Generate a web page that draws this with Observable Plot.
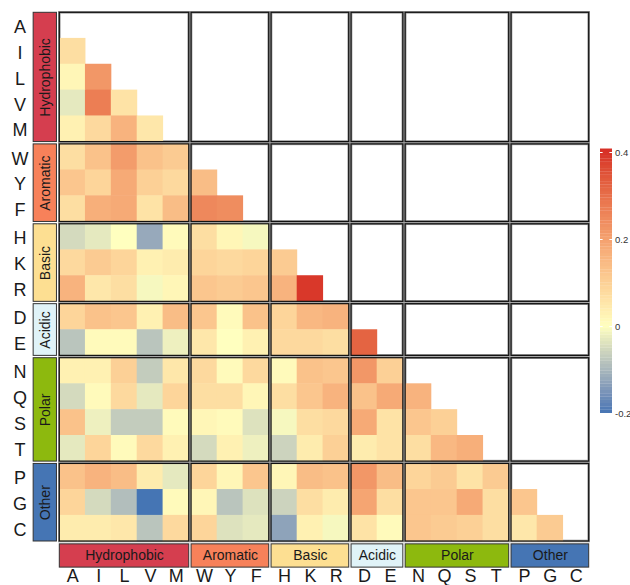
<!DOCTYPE html>
<html>
<head>
<meta charset="utf-8">
<script src="https://cdn.jsdelivr.net/npm/d3@7"></script>
<script src="https://cdn.jsdelivr.net/npm/@observablehq/plot@0.6"></script>
<style>
  html, body { margin: 0; padding: 0; background: #fff; }
  #wrap { position: relative; width: 630px; height: 585px; overflow: hidden; }
  #legend { position: absolute; left: 590px; top: 0; }
  svg { font-family: "Liberation Sans", Arial, sans-serif; }
</style>
</head>
<body>
<div id="wrap"><div id="main"></div><div id="legend"></div></div>
<script>
// ---- data ----
const aminoAcids = ["A","I","L","V","M","W","Y","F","H","K","R","D","E","N","Q","S","T","P","G","C"];
const groupNames = ["Hydrophobic","Aromatic","Basic","Acidic","Polar","Other"];
const groupSizes = [5,3,3,2,4,3];
const groupColors = ["#D53E4F","#F7815A","#FDDF92","#E0F3F8","#8DB90E","#4575B4"];
// lower-triangle correlation values: row i lists columns 0..i-1
const rowA = [];
const rowI = [0.07];
const rowL = [0.02, 0.22];
const rowV = [-0.03, 0.27, 0.06];
const rowM = [0.03, 0.08, 0.16, 0.05];
const rowW = [0.07, 0.13, 0.21, 0.13, 0.11];
const rowY = [0.12, 0.09, 0.18, 0.10, 0.08, 0.14];
const rowF = [0.07, 0.17, 0.18, 0.06, 0.14, 0.25, 0.24];
const rowH = [-0.05, -0.03, 0.00, -0.12, 0.01, 0.07, 0.02, -0.01];
const rowK = [0.08, 0.11, 0.09, 0.03, 0.04, 0.09, 0.08, 0.09, 0.11];
const rowR = [0.16, 0.05, 0.07, -0.01, 0.02, 0.12, 0.11, 0.12, 0.16, 0.39];
const rowD = [0.09, 0.13, 0.12, 0.03, 0.14, 0.12, 0.01, 0.13, 0.09, 0.15, 0.16];
const rowE = [-0.08, 0.01, 0.01, -0.08, -0.02, 0.05, 0.00, 0.03, 0.08, 0.08, 0.07, 0.32];
const rowN = [0.03, 0.03, 0.10, -0.07, 0.05, 0.08, 0.01, 0.08, 0.01, 0.13, 0.12, 0.22, 0.10];
const rowQ = [-0.05, 0.01, 0.08, -0.03, 0.09, 0.07, 0.07, 0.02, 0.07, 0.12, 0.16, 0.13, 0.18, 0.16];
const rowS = [0.13, -0.02, -0.07, -0.07, 0.01, 0.02, 0.01, -0.04, -0.01, 0.07, 0.08, 0.18, 0.06, 0.12, 0.10];
const rowT = [-0.03, 0.09, 0.01, 0.08, 0.03, -0.05, 0.03, -0.02, -0.06, 0.04, 0.10, 0.04, 0.06, 0.07, 0.15, 0.17];
const rowP = [0.13, 0.16, 0.14, 0.04, -0.03, 0.09, 0.02, 0.12, 0.02, 0.14, 0.13, 0.22, 0.14, 0.09, 0.11, 0.06, 0.11];
const rowG = [0.09, -0.05, -0.09, -0.20, 0.01, 0.02, -0.08, -0.04, -0.06, 0.07, 0.04, 0.19, 0.07, 0.12, 0.12, 0.18, 0.07, 0.12];
const rowC = [0.04, 0.04, 0.05, -0.08, 0.08, 0.09, -0.04, -0.03, -0.13, 0.03, -0.01, 0.06, 0.01, 0.12, 0.11, 0.10, 0.07, 0.05, 0.11];
const legendTicks = [-0.2, 0, 0.2, 0.4];
const legendLabels = ["-0.2", "0", "0.2", "0.4"];

const rows = [rowA,rowI,rowL,rowV,rowM,rowW,rowY,rowF,rowH,rowK,rowR,rowD,rowE,rowN,rowQ,rowS,rowT,rowP,rowG,rowC];

// ---- layout helpers ----
const GAP = 0.09, STRIP_GAP = 0.11, STRIP_W = 0.9;
const pos = [], groupStart = [];
let idx = 0;
groupSizes.forEach((s, k) => {
  groupStart.push(idx + k * GAP);
  for (let j = 0; j < s; j++) { pos.push(idx + k * GAP); idx++; }
});
const W = aminoAcids.length + (groupSizes.length - 1) * GAP;

const cells = [];
rows.forEach((row, i) => row.forEach((v, j) => cells.push({row: i, col: j, v})));
const panels = [];
groupSizes.forEach((_, r) => groupSizes.forEach((_, c) => panels.push({r, c})));

const colorOpts = {
  type: "linear",
  domain: [-0.2, 0, 0.4],
  range: ["#4575B4", "#FFFFBF", "#D73027"],
  interpolate: d3.interpolateLab,
  clamp: true
};

const px1 = d => groupStart[d.c], px2 = d => groupStart[d.c] + groupSizes[d.c];
const py1 = d => groupStart[d.r], py2 = d => groupStart[d.r] + groupSizes[d.r];

const stripMarks = [];
groupNames.forEach((name, k) => {
  stripMarks.push(Plot.rect([name], {
    x1: -STRIP_GAP - STRIP_W, x2: -STRIP_GAP,
    y1: groupStart[k], y2: groupStart[k] + groupSizes[k],
    fill: groupColors[k], stroke: "#333", strokeWidth: 1
  }));
  stripMarks.push(Plot.rect([name], {
    y1: W + STRIP_GAP, y2: W + STRIP_GAP + STRIP_W,
    x1: groupStart[k], x2: groupStart[k] + groupSizes[k],
    fill: groupColors[k], stroke: "#333", strokeWidth: 1
  }));
});

const main = Plot.plot({
  width: 630, height: 585,
  marginLeft: 59.3, marginRight: 41.3, marginTop: 12.3, marginBottom: 44,
  x: {domain: [0, W], axis: null},
  y: {domain: [0, W], reverse: true, axis: null},
  color: colorOpts,
  style: {fontFamily: "Liberation Sans, Arial, sans-serif", background: "white"},
  marks: [
    Plot.rect(panels, {x1: px1, x2: px2, y1: py1, y2: py2, fill: "white", stroke: "#9a9a9a", strokeWidth: 2.6}),
    Plot.rect(cells, {
      x1: d => pos[d.col], x2: d => pos[d.col] + 1,
      y1: d => pos[d.row], y2: d => pos[d.row] + 1,
      fill: d => d.v, inset: -0.25
    }),
    Plot.rect(panels, {x1: px1, x2: px2, y1: py1, y2: py2, fill: "none", stroke: "#111", strokeWidth: 1.2}),
    ...stripMarks,
    Plot.text(groupNames, {
      x: -STRIP_GAP - STRIP_W / 2,
      y: (d, k) => groupStart[k] + groupSizes[k] / 2,
      text: d => d, rotate: -90, fontSize: 14, fill: "#1a1a1a"
    }),
    Plot.text(groupNames, {
      y: W + STRIP_GAP + STRIP_W / 2,
      x: (d, k) => groupStart[k] + groupSizes[k] / 2,
      text: d => d, fontSize: 14, fill: "#1a1a1a"
    }),
    Plot.text(aminoAcids, {
      y: (d, i) => pos[i] + 0.5, text: d => d,
      frameAnchor: "left", textAnchor: "middle", dx: -39.8, dy: 1.5,
      fontSize: 18, fill: "#1a1a1a"
    }),
    Plot.text(aminoAcids, {
      x: (d, i) => pos[i] + 0.5, text: d => d,
      frameAnchor: "bottom", dy: 40.5,
      fontSize: 18, fill: "#1a1a1a"
    })
  ]
});
document.getElementById("main").appendChild(main);

// ---- vertical colour bar ----
const legendSteps = d3.range(-0.2, 0.4, 0.6 / 80);
const legend = Plot.plot({
  width: 40, height: 585,
  marginLeft: 10, marginRight: 18, marginTop: 152, marginBottom: 172,
  x: {domain: [0, 1], axis: null},
  y: {domain: [-0.2, 0.4], axis: null},
  color: colorOpts,
  style: {fontFamily: "Liberation Sans, Arial, sans-serif", background: "transparent"},
  marks: [
    Plot.rect(legendSteps, {x1: 0, x2: 1, y1: d => d, y2: d => d + 0.6 / 80 + 0.0005, fill: d => d + 0.3 / 80}),
    Plot.ruleY(legendTicks, {x1: 0, x2: 0.22, stroke: "white", strokeWidth: 1}),
    Plot.ruleY(legendTicks, {x1: 0.78, x2: 1, stroke: "white", strokeWidth: 1}),
    Plot.text(legendTicks, {x: 1, y: d => d, text: (d, i) => legendLabels[i], textAnchor: "start", dx: 2.5, fontSize: 9.5, fill: "#333"})
  ]
});
document.getElementById("legend").appendChild(legend);
</script>
</body>
</html>
